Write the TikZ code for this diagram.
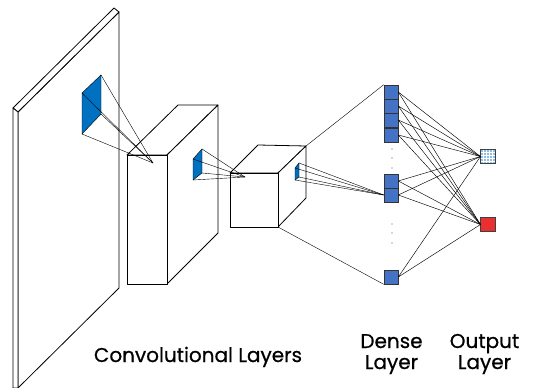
\documentclass[tikz,border=0pt]{standalone}
\usepackage{fontspec}
\setmainfont{Poppins}
\newfontfamily\lblfont[FakeBold=0.6]{Poppins}
\definecolor{patchblue}{RGB}{0,112,192}
\definecolor{neuronblue}{RGB}{68,114,196}
\definecolor{outblue}{RGB}{140,190,232}
\definecolor{outred}{RGB}{232,48,48}
\begin{document}
\begin{tikzpicture}[x=1pt,y=-1pt,
  solid edge/.style={draw=black, line width=0.8pt, line join=round},
  ray/.style={draw=black, line width=0.4pt},
  patch/.style={fill=patchblue, draw=black, line width=0.4pt},
  neuron/.style={draw=black!80, fill=neuronblue, minimum size=14pt, inner sep=0pt, line width=0.6pt},
  outnode/.style={draw=black!75, minimum size=14.5pt, inner sep=0pt, line width=0.6pt},
  conn/.style={draw=black, line width=0.45pt},
  lbl/.style={font=\lblfont\fontsize{20}{24}\selectfont, inner sep=0pt, anchor=base, text=black},
  dotm/.style={fill=black!70, circle, inner sep=0pt, minimum size=1.3pt}]
\useasboundingbox (0,0) rectangle (539,388);

% ---------- input plane ----------
\coordinate (p1) at (13,108);
\coordinate (p2) at (18,112);
\coordinate (p3) at (119,12);
\coordinate (p4) at (114,8);
\coordinate (p5) at (119,288);
\coordinate (p6) at (18,388);
\coordinate (p7) at (13,388);
\draw[solid edge, fill=white] (p2) -- (p3) -- (p5) -- (p6) -- cycle;
\draw[solid edge, fill=white] (p1) -- (p4) -- (p3) -- (p2) -- cycle;
\draw[solid edge, fill=white] (p1) -- (p2) -- (p6) -- (p7) -- cycle;

% patch on input
\coordinate (a1) at (82,93);
\coordinate (a2) at (101,75);
\coordinate (a3) at (101,114);
\coordinate (a4) at (82,134);
\draw[patch] (a1) -- (a2) -- (a3) -- (a4) -- cycle;

% ---------- conv block 1 ----------
\coordinate (f1) at (127,155);
\coordinate (f2) at (167,155);
\coordinate (f3) at (167,284);
\coordinate (f4) at (127,284);
\coordinate (b1) at (178,105);
\coordinate (b2) at (218,105);
\coordinate (b3) at (218,233);
\draw[solid edge, fill=white] (f1) -- (b1) -- (b2) -- (f2) -- cycle;
\draw[solid edge, fill=white] (f2) -- (b2) -- (b3) -- (f3) -- cycle;
\draw[solid edge, fill=white] (f1) -- (f2) -- (f3) -- (f4) -- cycle;

\coordinate (t1) at (153,163);
\foreach \c in {a1,a2,a3,a4} \draw[ray] (\c) -- (t1);

% patch on conv block 1
\coordinate (q1) at (193,159);
\coordinate (q2) at (202,149);
\coordinate (q3) at (202,173);
\coordinate (q4) at (193,180);
\draw[patch] (q1) -- (q2) -- (q3) -- (q4) -- cycle;

% ---------- conv block 2 (cube) ----------
\coordinate (c1) at (230,173);
\coordinate (c2) at (278,173);
\coordinate (c3) at (278,227);
\coordinate (c4) at (230,227);
\coordinate (d1) at (258,145);
\coordinate (d2) at (306,146);
\coordinate (d3) at (306,198);
\draw[solid edge, fill=white] (c1) -- (d1) -- (d2) -- (c2) -- cycle;
\draw[solid edge, fill=white] (c2) -- (d2) -- (d3) -- (c3) -- cycle;
\draw[solid edge, fill=white] (c1) -- (c2) -- (c3) -- (c4) -- cycle;

\coordinate (t2) at (245,177);
\foreach \c in {q1,q2,q3,q4} \draw[ray] (\c) -- (t2);

% patch on cube
\coordinate (r1) at (295,168);
\coordinate (r2) at (299,163);
\coordinate (r3) at (299,177);
\coordinate (r4) at (295,180);
\draw[patch] (r1) -- (r2) -- (r3) -- (r4) -- cycle;

% ---------- dense layer ----------
\node[neuron] (n1) at (391,92) {};
\node[neuron] (n2) at (391,106) {};
\node[neuron] (n3) at (391,120) {};
\node[neuron] (n4) at (391,135) {};
\node[neuron] (n5) at (391,181) {};
\node[neuron] (n6) at (391,195) {};
\node[neuron] (n7) at (391,277) {};

\node[dotm] (k1) at (392,149) {};
\node[dotm] (k2) at (392,158) {};
\node[dotm] (k3) at (392,168) {};
\node[dotm] (k4) at (392,224) {};
\node[dotm] (k5) at (392,233) {};
\node[dotm] (k6) at (392,243) {};

% cube to dense
\draw[ray] (d2) -- (n1.north west);
\draw[ray] (c3) -- (n7.south west);
\foreach \c in {r1,r2,r3,r4} \draw[ray] (\c) -- (n6.west);

% ---------- output layer ----------
\node[outnode, fill=outblue] (o1) at (488,156.5) {};
\node[outnode, fill=outred] (o2) at (488,224.5) {};
\begin{scope}
  \clip (o1.south west) rectangle (o1.north east);
  \foreach \i in {3,6,9,12} {
    \draw[white, line width=0.35pt] ([xshift=\i pt]o1.north west) -- ([xshift=\i pt]o1.south west);
    \draw[white, line width=0.35pt] ([yshift=-\i pt]o1.north west) -- ([yshift=-\i pt]o1.north east);
  }
\end{scope}
\node[outnode, fill=none] at (o1) {};

\foreach \n in {n1,n2,n3,n4,n5,n6,n7} {
  \draw[conn] (\n.east) -- (o1.west);
  \draw[conn] (\n.east) -- (o2.west);
}

% ---------- labels ----------
\node[lbl] (l1) at (198,362) {Convolutional Layers};
\node[lbl] (l2a) at (391.5,348) {Dense};
\node[lbl] (l2b) at (391.5,369) {Layer};
\node[lbl] (l3a) at (484.5,348) {Output};
\node[lbl] (l3b) at (484.5,369) {Layer};
\end{tikzpicture}
\end{document}
